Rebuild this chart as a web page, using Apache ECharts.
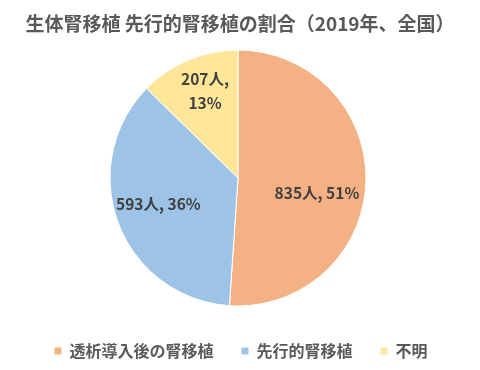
<!DOCTYPE html>
<html><head><meta charset="utf-8">
<script src="https://cdn.jsdelivr.net/npm/echarts@6/dist/echarts.min.js"></script>
<style>html,body{margin:0;padding:0;background:#fff}#c{width:480px;height:370px}</style>
</head><body><div id="c"></div>
<script>
const categories = ['透析導入後の腎移植', '先行的腎移植', '不明'];
const values = [835, 593, 207];
const percents = [51, 36, 13];
const colors = ['#F4B183', '#9DC3E6', '#FFE699'];
const labelOffsets = [[12, 13], [-17, 2], [-7, -25]];
const labelBreak = [false, false, true];

const chart = echarts.init(document.getElementById('c'), null, {renderer: 'canvas'});
const font = '"Noto Sans CJK JP", "Noto Sans", sans-serif';
chart.setOption({
  animation: false,
  title: {
    text: '生体腎移植 先行的腎移植の割合（2019年、全国）',
    left: 'center', top: 9,
    textStyle: {fontFamily: font, fontSize: 19, fontWeight: 'bold', color: '#595959'}
  },
  legend: {
    bottom: 6, left: 'center',
    itemWidth: 9, itemHeight: 9, itemGap: 26,
    icon: 'rect',
    data: categories,
    textStyle: {fontFamily: font, fontSize: 16, fontWeight: 'bold', color: '#595959', padding: [0, 0, 0, 2]}
  },
  series: [{
    type: 'pie',
    center: [238, 178],
    radius: 128,
    startAngle: 90,
    clockwise: true,
    avoidLabelOverlap: false,
    itemStyle: {borderColor: '#fff', borderWidth: 1},
    label: {
      position: 'inside',
      fontFamily: font, fontSize: 15.5, fontWeight: 'bold', color: '#404040', lineHeight: 24
    },
    labelLine: {show: false},
    data: categories.map((n, i) => ({
      name: n, value: values[i],
      itemStyle: {color: colors[i]},
      label: {
        offset: labelOffsets[i],
        formatter: values[i] + '人,' + (labelBreak[i] ? '\n' : ' ') + percents[i] + '%'
      }
    }))
  }]
});
</script></body></html>
